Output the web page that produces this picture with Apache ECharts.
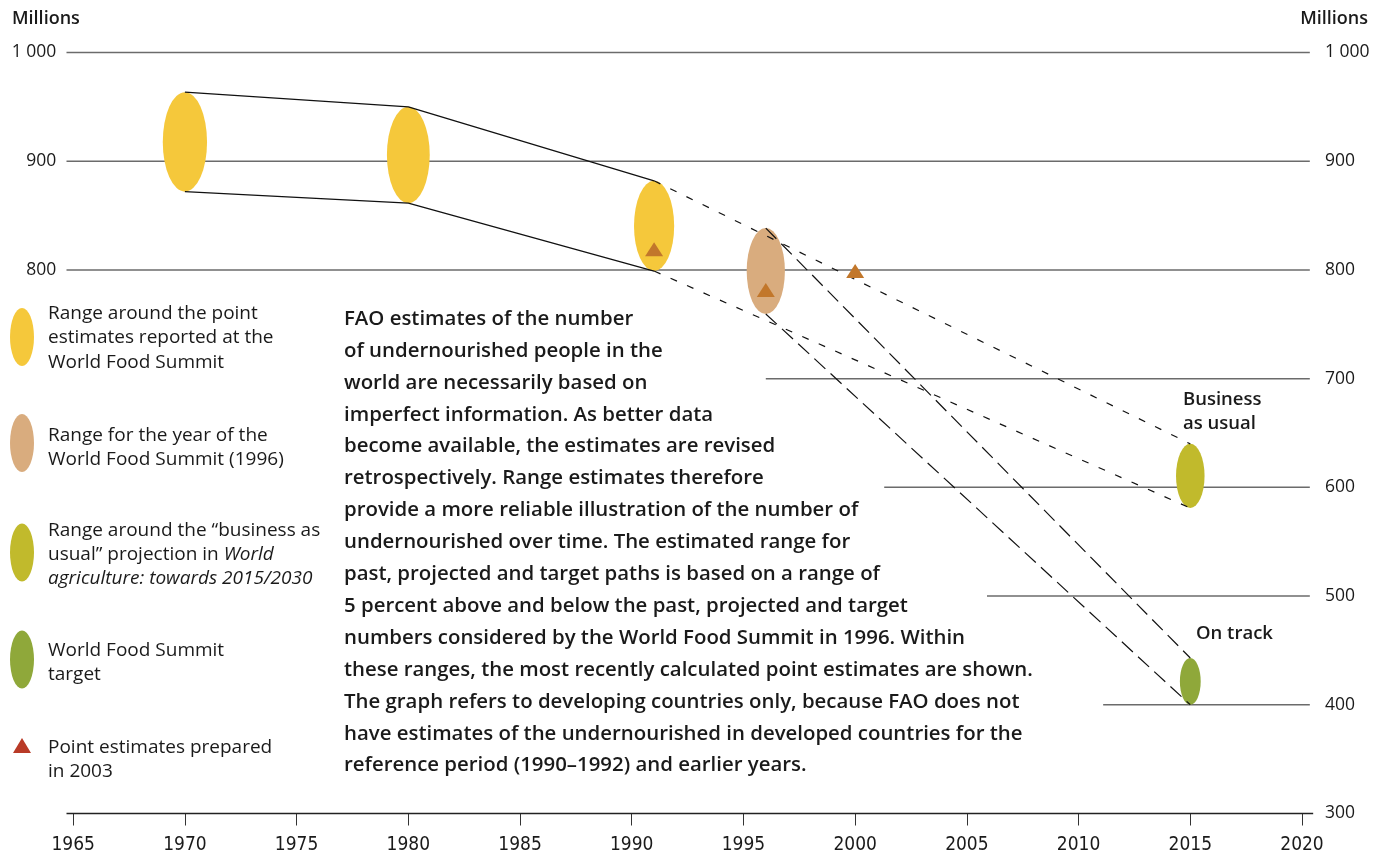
<!DOCTYPE html>
<html>
<head>
<meta charset="utf-8">
<script src="https://cdn.jsdelivr.net/npm/echarts@6/dist/echarts.min.js"></script>
<style>
html,body{margin:0;padding:0;background:#fff;}
#chart{width:1385px;height:857px;}
</style>
</head>
<body>
<div id="chart"></div>
<script>
// ---------- DATA ----------
const xTicks = [1965, 1970, 1975, 1980, 1985, 1990, 1995, 2000, 2005, 2010, 2015, 2020];
const yTicksRight = [300, 400, 500, 600, 700, 800, 900, 1000];
const yTicksLeft = [800, 900, 1000];

// Ranges (ellipses): year, low, high, kind
const rangeYears = [1970, 1980, 1991, 1996, 2015, 2015];
const rangeLow   = [872, 861.5, 799, 759.5, 581, 400];
const rangeHigh  = [963.5, 950, 882, 838.5, 640, 443];
const rangeKind  = [0, 0, 0, 1, 2, 3]; // 0 WFS point-estimate range, 1 WFS year 1996, 2 business as usual, 3 WFS target

// Point estimates prepared in 2003
const pointYears  = [1991, 1996, 2000];
const pointValues = [819, 781.5, 799];

// Past paths (solid)
const pastYears = [1970, 1980, 1991];
const pastUpper = [963.5, 950, 882];
const pastLower = [872, 861.5, 799];

// Business-as-usual projection paths (short dash)
const bauYears = [1991, 2015];
const bauUpper = [882, 640];
const bauLower = [799, 581];

// On-track (target) paths (long dash)
const trackYears = [1996, 2015];
const trackUpper = [838.5, 443];
const trackLower = [759.5, 400];

// Horizontal reference lines: value and start/end year (300 = baseline axis)
const refValues = [1000, 900, 800, 700, 600, 500, 400, 300];
const refFrom   = [1964.7, 1964.7, 1964.7, 1996, 2001.3, 2005.9, 2011.1, 1964.7];
const refTo     = [2020.35, 2020.35, 2020.35, 2020.35, 2020.35, 2020.35, 2020.35, 2020.5];

// Texts
const legendItems = [
  ['Range around the point', 'estimates reported at the', 'World Food Summit'],
  ['Range for the year of the', 'World Food Summit (1996)'],
  ['Range around the \u201cbusiness as', '{r|usual\u201d projection in }{i|World}', '{i|agriculture: towards 2015/2030}'],
  ['World Food Summit', 'target'],
  ['Point estimates prepared', 'in 2003']
];
const noteLines = [
  'FAO estimates of the number',
  'of undernourished people in the',
  'world are necessarily based on',
  'imperfect information. As better data',
  'become available, the estimates are revised',
  'retrospectively. Range estimates therefore',
  'provide a more reliable illustration of the number of',
  'undernourished over time. The estimated range for',
  'past, projected and target paths is based on a range of',
  '5 percent above and below the past, projected and target',
  'numbers considered by the World Food Summit in 1996. Within',
  'these ranges, the most recently calculated point estimates are shown.',
  'The graph refers to developing countries only, because FAO does not',
  'have estimates of the undernourished in developed countries for the',
  'reference period (1990\u20131992) and earlier years.'
];

// ---------- STYLE ----------
const kindColors = ['#F5C83B', '#D9AC7E', '#C1BA2C', '#8FA83A'];
const pointColor = '#C2772B';
const legendTriangleColor = '#B93A27';
const textColor = '#1a1a1a';
const gridColor = '#6b6b6b';
const FONT = '"Open Sans", Roboto, sans-serif';
const NARROW = '"Liberation Sans Narrow", "DejaVu Sans Condensed", Roboto, sans-serif';

const chart = echarts.init(document.getElementById('chart'), null, {renderer: 'canvas'});

function fmt(v) {
  return v >= 1000 ? String(v).replace(/^(\d)(\d{3})$/, '$1 $2') : String(v);
}

const ellipseData = rangeYears.map((y, i) => [y, rangeLow[i], rangeHigh[i], rangeKind[i]]);
const refData = refValues.map((v, i) => [refFrom[i], refTo[i], v]);

function pairs(xs, ys) { return xs.map((x, i) => [x, ys[i]]); }

// Legend graphics
const LFS = 19;
const legendTops = [301.5, 423, 518, 638, 735];
const legendLH = 24.3;
const graphics = [];
legendItems.forEach((lines, k) => {
  lines.forEach((ln, j) => {
    graphics.push({
      type: 'text', left: 48, top: legendTops[k] + j * legendLH,
      style: {
        text: ln, fill: textColor, font: LFS + 'px ' + FONT, lineHeight: legendLH,
        rich: {
          r: {fontFamily: FONT, fontSize: LFS, fill: textColor, lineHeight: legendLH},
          i: {fontFamily: FONT, fontSize: LFS, fontStyle: 'italic', fill: textColor, lineHeight: legendLH}
        }
      }
    });
  });
});
const legendEllipseCenters = [337, 443, 552.5, 659.5];
legendEllipseCenters.forEach((cy, k) => {
  graphics.push({
    type: 'circle', x: 22, y: cy, scaleX: 24 / 58,
    shape: {cx: 0, cy: 0, r: 29},
    style: {fill: kindColors[k]}
  });
});
graphics.push({
  type: 'polygon',
  shape: {points: [[22, 738], [31, 753], [13, 753]]},
  style: {fill: legendTriangleColor}
});
// Note paragraph
const NOTE_LH = 31.9;
noteLines.forEach((ln, j) => {
  graphics.push({
    type: 'text', left: 344, top: 319 - NOTE_LH / 2 + j * NOTE_LH,
    style: {text: ln, fill: textColor, font: '600 20.4px ' + FONT, lineHeight: NOTE_LH}
  });
});
// Millions labels
graphics.push({type: 'text', left: 12, top: 10, style: {text: 'Millions', fill: textColor, font: '600 18px ' + FONT}});
graphics.push({type: 'text', right: 17, top: 10, style: {text: 'Millions', fill: textColor, font: '600 18px ' + FONT}});
// Scenario labels
graphics.push({type: 'text', left: 1183, top: 388, style: {text: 'Business\nas usual', fill: textColor, font: '600 18.5px ' + FONT, lineHeight: 24}});
graphics.push({type: 'text', left: 1196, top: 622, style: {text: 'On track', fill: textColor, font: '600 18.5px ' + FONT, lineHeight: 24}});

const lineStyleSolid = {color: '#111', width: 1.3};
const lineStyleShort = {color: '#111', width: 1.2, type: [7, 11]};
const lineStyleLong = {color: '#111', width: 1.2, type: [15, 7]};

const option = {
  backgroundColor: '#ffffff',
  animation: false,
  grid: {left: 73.2, right: 83, top: 52.5, bottom: 43.5},
  xAxis: {
    type: 'value', min: 1965, max: 2020, interval: 5,
    axisLine: {show: false},
    axisTick: {show: true, length: 12, lineStyle: {color: '#333', width: 1}},
    splitLine: {show: false},
    axisLabel: {
      color: textColor, fontSize: 19, fontFamily: NARROW, margin: 22,
      formatter: v => xTicks.includes(v) ? String(v) : ''
    }
  },
  yAxis: [
    {
      type: 'value', min: 300, max: 1000, interval: 100, position: 'left',
      axisLine: {show: false}, axisTick: {show: false}, splitLine: {show: false},
      axisLabel: {
        color: textColor, fontSize: 17.5, fontFamily: FONT, margin: 17,
        formatter: v => yTicksLeft.includes(v) ? fmt(v) : ''
      }
    },
    {
      type: 'value', min: 300, max: 1000, interval: 100, position: 'right',
      axisLine: {show: false}, axisTick: {show: false}, splitLine: {show: false},
      axisLabel: {
        color: textColor, fontSize: 17.5, fontFamily: FONT, margin: 23,
        formatter: v => yTicksRight.includes(v) ? fmt(v) : ''
      }
    }
  ],
  graphic: graphics,
  series: [
    {
      type: 'custom', z: 1, silent: true, clip: false,
      data: refData,
      renderItem: function (params, api) {
        const a = api.coord([api.value(0), api.value(2)]);
        const b = api.coord([api.value(1), api.value(2)]);
        const base = api.value(2) === 300;
        return {
          type: 'line',
          shape: {x1: a[0], y1: a[1], x2: b[0], y2: b[1]},
          style: {stroke: base ? '#222' : gridColor, lineWidth: 1.5}
        };
      }
    },
    {
      type: 'custom', z: 2, silent: true,
      data: ellipseData,
      renderItem: function (params, api) {
        const x = api.value(0), lo = api.value(1), hi = api.value(2), k = api.value(3);
        const top = api.coord([x, hi]);
        const bot = api.coord([x, lo]);
        const h = bot[1] - top[1];
        return {
          type: 'circle', x: top[0], y: (top[1] + bot[1]) / 2, scaleX: 0.445,
          shape: {cx: 0, cy: 0, r: h / 2},
          style: {fill: kindColors[k]}
        };
      }
    },
    {type: 'line', z: 3, silent: true, data: pairs(pastYears, pastUpper), symbol: 'none', lineStyle: lineStyleSolid},
    {type: 'line', z: 3, silent: true, data: pairs(pastYears, pastLower), symbol: 'none', lineStyle: lineStyleSolid},
    {type: 'line', z: 3, silent: true, data: pairs(bauYears, bauUpper), symbol: 'none', lineStyle: lineStyleShort},
    {type: 'line', z: 3, silent: true, data: pairs(bauYears, bauLower), symbol: 'none', lineStyle: lineStyleShort},
    {type: 'line', z: 3, silent: true, data: pairs(trackYears, trackUpper), symbol: 'none', lineStyle: lineStyleLong},
    {type: 'line', z: 3, silent: true, data: pairs(trackYears, trackLower), symbol: 'none', lineStyle: lineStyleLong},
    {
      type: 'scatter', z: 4, silent: true, data: pairs(pointYears, pointValues),
      symbol: 'triangle', symbolSize: [18, 14], itemStyle: {color: pointColor, opacity: 1}
    }
  ]
};
chart.setOption(option);
</script>
</body>
</html>
